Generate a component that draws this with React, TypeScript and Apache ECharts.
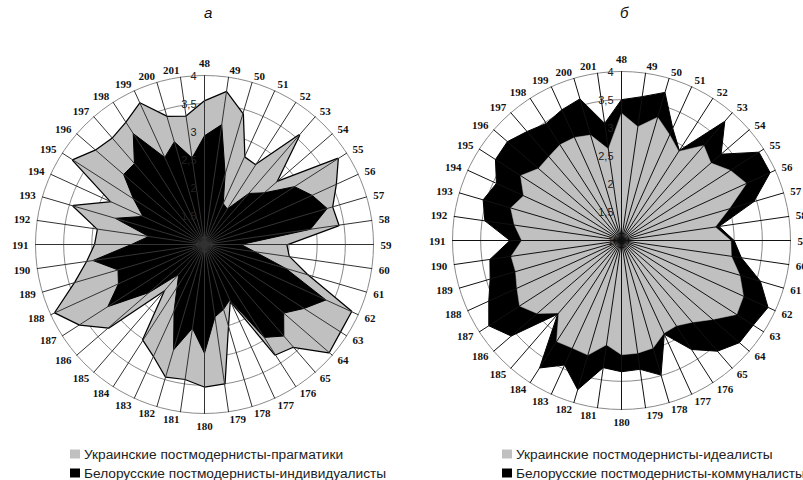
import React, { useEffect, useRef } from 'react';
import * as echarts from 'echarts';

// Radar categories, clockwise from the top
const categories: string[] = [
  '48', '49', '50', '51', '52', '53', '54', '55', '56', '57', '58', '59', '60', '61', '62', '63', '64', '65',
  '176', '177', '178', '179', '180', '181', '182', '183', '184', '185', '186', '187', '188', '189', '190',
  '191', '192', '193', '194', '195', '196', '197', '198', '199', '200', '201',
];

// Chart "а"
const ukrPragmatists: number[] = [
  3.54, 3.73, 3.41, 2.70, 2.67, 3.56, 2.68, 3.81, 3.56, 3.36, 3.40, 2.45, 2.51, 2.89, 3.86, 3.86, 3.92, 3.40,
  3.32, 2.08, 2.48, 3.49, 3.52, 3.41, 3.44, 3.17, 3.01, 2.05, 3.25, 3.63, 3.91, 3.39, 3.10,
  2.94, 2.91, 3.42, 2.81, 3.77, 3.55, 3.49, 3.57, 3.75, 3.36, 3.29,
];
const belIndividualists: number[] = [
  2.93, 3.15, 2.30, 1.80, 1.75, 2.20, 2.40, 2.90, 3.10, 3.27, 2.90, 1.65, 1.90, 2.50, 3.37, 3.10, 2.86, 3.15,
  2.96, 2.08, 2.20, 2.30, 2.93, 2.50, 2.95, 2.30, 1.90, 1.70, 2.30, 3.04, 2.68, 2.60, 3.00,
  2.30, 2.00, 2.65, 2.20, 2.50, 2.90, 2.90, 3.34, 2.70, 2.90, 2.55,
];

// Chart "б"
const ukrIdealists: number[] = [
  3.26, 3.04, 3.28, 3.06, 2.88, 3.23, 3.10, 3.30, 3.44, 2.99, 2.68, 2.94, 2.97, 3.19, 3.38, 3.43, 3.14, 2.92,
  2.80, 2.81, 2.99, 3.02, 3.03, 2.87, 3.12, 3.10, 3.13, 2.70, 2.98, 3.15, 3.04, 2.96, 2.98,
  2.77, 2.92, 3.05, 2.91, 3.13, 2.95, 2.97, 3.02, 3.01, 2.95, 2.64,
];
const belCommunalists: number[] = [
  3.50, 3.58, 3.74, 3.19, 2.90, 3.80, 3.34, 3.90, 3.90, 3.45, 2.75, 3.00, 3.15, 3.57, 3.86, 3.78, 3.77, 3.60,
  3.30, 2.83, 3.49, 3.31, 3.33, 3.28, 3.76, 3.43, 3.69, 2.73, 3.59, 3.80, 3.59, 3.43, 3.36,
  2.98, 3.45, 3.56, 3.44, 3.66, 3.68, 3.56, 3.47, 3.55, 3.62, 3.10,
];

const scaleMin = 1;
const scaleMax = 4;
const scaleSplits = 6;

const panelTitles: string[] = ['а', 'б'];
const leftNames: string[] = ['Украинские постмодернисты-прагматики', 'Белорусские постмодернисты-индивидуалисты'];
const rightNames: string[] = ['Украинские постмодернисты-идеалисты', 'Белорусские постмодернисты-коммуналисты'];

const GRAY = '#c0c0c0';
const BLACK = '#000000';

// ECharts places radar indicators counter-clockwise; reorder so the order runs clockwise.
const clockwise = <T,>(arr: T[]): T[] => [arr[0], ...arr.slice(1).reverse()];

export default function App() {
  const ref = useRef<HTMLDivElement>(null);

  useEffect(() => {
    document.body.style.margin = '0';
    const chart = echarts.init(ref.current as HTMLDivElement, undefined, { renderer: 'svg' });

    const indicators = (withLabel: boolean) =>
      clockwise(categories).map((name, i) => ({
        name,
        min: scaleMin,
        max: scaleMax,
        ...(withLabel && i === 0 ? { axisLabel: { show: true } } : {}),
      }));

    const centers: [number, number][] = [
      [204.5, 244.5],
      [621.5, 240.5],
    ];

    const baseRadar = (center: [number, number]) => ({
      center,
      radius: 169,
      startAngle: 90,
      shape: 'circle',
      splitNumber: scaleSplits,
      indicator: indicators(false),
      nameGap: 7,
      axisName: {
        show: true,
        color: '#111',
        fontFamily: 'Liberation Serif',
        fontWeight: 'bold',
        fontSize: 11,
      },
      axisLine: { show: false },
      axisTick: { show: false },
      axisLabel: { show: false },
      splitLine: { show: true, lineStyle: { color: '#8a8a8a', width: 1 } },
      splitArea: { show: false },
      z: 0,
    });

    const overlayRadar = (center: [number, number], spokeColor: string) => ({
      center,
      radius: 169,
      startAngle: 90,
      shape: 'circle',
      splitNumber: scaleSplits,
      indicator: indicators(true),
      axisName: { show: false },
      axisLine: { show: true, lineStyle: { color: spokeColor, width: 1 } },
      axisTick: { show: false },
      axisLabel: {
        show: false,
        color: '#222',
        fontFamily: 'Liberation Sans',
        fontSize: 11,
        margin: 8,
        formatter: (v: number) => String(v).replace('.', ','),
      },
      splitLine: { show: false },
      splitArea: { show: false },
      z: 5,
    });

    const legendItem = (name: string, left: number, top: number) => ({
      data: [name],
      left,
      top,
      padding: 0,
      orient: 'horizontal',
      icon: 'rect',
      itemWidth: 10,
      itemHeight: 9,
      itemGap: 0,
      selectedMode: false,
      itemStyle: { borderWidth: 0 },
      textStyle: { fontSize: 13.7, color: '#222', fontFamily: 'Liberation Sans', padding: [0, 0, 0, -1] },
    });

    const titleStyle = {
      fontStyle: 'italic',
      fontWeight: 'normal',
      fontSize: 15,
      color: '#111',
      fontFamily: 'Liberation Sans',
    };

    const option = {
      animation: false,
      backgroundColor: '#ffffff',
      title: [
        { text: panelTitles[0], left: 199, top: 0, textStyle: titleStyle },
        { text: panelTitles[1], left: 615, top: 0, textStyle: titleStyle },
      ],
      legend: [
        legendItem(leftNames[0], 70, 447),
        legendItem(leftNames[1], 70, 466),
        legendItem(rightNames[0], 502, 447),
        legendItem(rightNames[1], 502, 466),
      ],
      radar: [
        baseRadar(centers[0]),
        baseRadar(centers[1]),
        overlayRadar(centers[0], '#333333'),
        overlayRadar(centers[1], '#111111'),
      ],
      series: [
        {
          type: 'radar',
          radarIndex: 0,
          symbol: 'none',
          z: 2,
          data: [
            {
              name: leftNames[0],
              value: clockwise(ukrPragmatists),
              itemStyle: { color: GRAY },
              lineStyle: { color: BLACK, width: 2.5 },
              areaStyle: { color: GRAY, opacity: 1 },
            },
          ],
        },
        {
          type: 'radar',
          radarIndex: 0,
          symbol: 'none',
          z: 3,
          data: [
            {
              name: leftNames[1],
              value: clockwise(belIndividualists),
              itemStyle: { color: BLACK },
              lineStyle: { color: BLACK, width: 1 },
              areaStyle: { color: BLACK, opacity: 1 },
            },
          ],
        },
        {
          type: 'radar',
          radarIndex: 1,
          symbol: 'none',
          z: 2,
          data: [
            {
              name: rightNames[1],
              value: clockwise(belCommunalists),
              itemStyle: { color: BLACK },
              lineStyle: { color: BLACK, width: 1 },
              areaStyle: { color: BLACK, opacity: 1 },
            },
          ],
        },
        {
          type: 'radar',
          radarIndex: 1,
          symbol: 'none',
          z: 3,
          data: [
            {
              name: rightNames[0],
              value: clockwise(ukrIdealists),
              itemStyle: { color: GRAY },
              lineStyle: { color: GRAY, width: 0.5 },
              areaStyle: { color: GRAY, opacity: 1 },
            },
          ],
        },
      ],
    };

    chart.setOption(option as any);
    return () => chart.dispose();
  }, []);

  return <div ref={ref} style={{ width: 803, height: 480 }} />;
}
